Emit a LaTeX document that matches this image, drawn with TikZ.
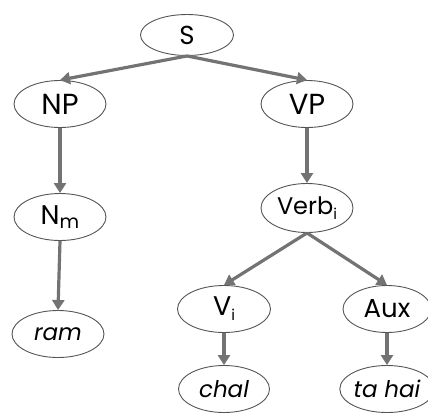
\documentclass[tikz,border=0pt]{standalone}
\usepackage{fontspec}
\setmainfont{Poppins}
\usetikzlibrary{shapes.geometric,arrows.meta}
\definecolor{edgegray}{RGB}{115,115,115}
\definecolor{ringgray}{RGB}{85,85,85}
\tikzset{
  tnode/.style={ellipse,draw=ringgray,line width=0.9pt,inner sep=0pt,minimum width=92pt,minimum height=47pt},
  conn/.style={draw=edgegray,line width=3.2pt,-{Triangle[width=12pt,length=10pt]},fill=edgegray}
}
\begin{document}
\begin{tikzpicture}[x=1pt,y=-1pt]
\useasboundingbox (0,0) rectangle (428,413);
\node[tnode,minimum width=93pt,minimum height=41pt,font=\fontsize{26}{28}\selectfont] (S) at (187,35) {S};
\node[tnode,font=\fontsize{29}{32}\selectfont] (NP) at (60,104) {NP};
\node[tnode,font=\fontsize{29}{32}\selectfont] (VP) at (307,104) {VP};
\node[tnode,font=\fontsize{27}{30}\selectfont] (Nm) at (60,217) {N\raisebox{-4pt}{\fontsize{19}{20}\selectfont m}};
\node[tnode,minimum height=49pt,font=\fontsize{24}{27}\selectfont] (Verb) at (307,208) {Verb\raisebox{-5pt}{\fontsize{15}{16}\selectfont i}};
\node[tnode,font=\fontsize{23}{26}\selectfont\itshape] (ram) at (58,334) {ram};
\node[tnode,minimum width=93pt,font=\fontsize{27}{30}\selectfont] (Vi) at (224,309) {V\raisebox{-5pt}{\fontsize{15}{16}\selectfont i}};
\node[tnode,minimum width=88pt,font=\fontsize{26}{29}\selectfont] (Aux) at (387,309) {Aux};
\node[tnode,minimum width=91pt,font=\fontsize{23}{26}\selectfont\itshape] (chal) at (224,389) {chal};
\node[tnode,minimum width=88pt,font=\fontsize{23}{26}\selectfont\itshape] (tahai) at (387,389) {ta hai};
\draw[conn] (S.south) -- (NP.north);
\draw[conn] (S.south) -- (VP.north);
\draw[conn] (NP.south) -- (Nm.north);
\draw[conn] (VP.south) -- (Verb.north);
\draw[conn] (Nm.south) -- (ram.north);
\draw[conn] (Verb.south) -- (Vi.north);
\draw[conn] (Verb.south) -- (Aux.north);
\draw[conn] (Vi.south) -- (chal.north);
\draw[conn] (Aux.south) -- (tahai.north);
\end{tikzpicture}
\end{document}
